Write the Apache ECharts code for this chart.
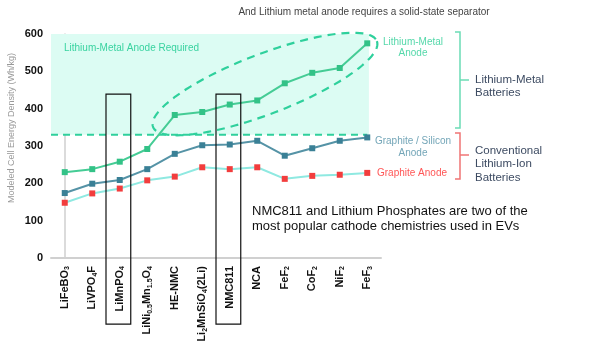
<!DOCTYPE html>
<html lang="en">
<head>
  <meta charset="UTF-8">
  <title>Cell energy density by cathode</title>
  <script src="https://cdn.jsdelivr.net/npm/echarts@6/dist/echarts.min.js"></script>
  <style>
    * {
      margin: 0;
      padding: 0
    }

    html, body {
      width: 100%;
      height: 100%;
      background: #fff;
    }

    #main {
      width: 612px;
      height: 352px;
    }
  </style>
</head>
<body>
  <div id="main"></div>
</body>
<script type="text/javascript">
  /*-------------------- data -----------------------------*/
  var categories = ['LiFeBO3', 'LiVPO4F', 'LiMnPO4', 'LiNi0.5Mn1.5O4', 'HE-NMC', 'Li2MnSiO4(2Li)',
    'NMC811', 'NCA', 'FeF2', 'CoF2', 'NiF2', 'FeF3'];
  // tick labels with subscripts (rich text)
  var xLabels = ['LiFeBO{s|3}', 'LiVPO{s|4}F', 'LiMnPO{s|4}', 'LiNi{s|0.5}Mn{s|1.5}O{s|4}', 'HE-NMC',
    'Li{s|2}MnSiO{s|4}(2Li)', 'NMC811', 'NCA', 'FeF{s|2}', 'CoF{s|2}', 'NiF{s|2}', 'FeF{s|3}'];
  var lithiumMetal = [230, 238, 258, 292, 383, 391, 411, 422, 468, 496, 509, 575];
  var graphiteSilicon = [174, 199, 209, 238, 279, 302, 304, 314, 274, 294, 314, 323];
  var graphite = [148, 173, 186, 208, 218, 243, 238, 243, 212, 220, 223, 228];

  var liMetalThreshold = 330;           // above this a lithium-metal anode is required
  var highlighted = ['LiMnPO4', 'NMC811'];
  // ends of the dashed ellipse, in (category index, Wh/kg)
  var ellipseEnds = [[3.21, 351], [11.35, 581]];

  var FONT = '"Liberation Sans", Arial, sans-serif';

  /*-------------------- chart -----------------------------*/
  var chart = echarts.init(document.getElementById('main'));

  function bgItem(params, api) {
    var tl = api.coord([-0.5, 600]);
    var br = api.coord([11.06, liMetalThreshold]);
    var l0 = api.coord([-0.5, liMetalThreshold]);
    var l1 = api.coord([categories.length - 1, liMetalThreshold]);
    return {
      type: 'group',
      children: [
        {
          type: 'rect',
          shape: {x: tl[0], y: tl[1], width: br[0] - tl[0], height: br[1] - tl[1]},
          style: {fill: '#dcfcf3'}
        },
        {
          type: 'line',
          shape: {x1: l0[0], y1: l0[1], x2: l1[0], y2: l1[1]},
          style: {stroke: '#2fd09c', lineWidth: 2, lineDash: [7, 5]}
        }
      ]
    };
  }

  function annItem(params, api) {
    var children = [];
    // boxes around highlighted cathodes
    highlighted.forEach(function (name) {
      var i = categories.indexOf(name);
      var a = api.coord([i - 0.5, 439]);
      var b = api.coord([i + 0.4, -177]);
      children.push({
        type: 'rect',
        shape: {x: a[0], y: a[1], width: b[0] - a[0], height: b[1] - a[1]},
        style: {fill: 'none', stroke: '#111', lineWidth: 1.2}
      });
    });
    // dashed ellipse round the lithium-metal points
    var p1 = api.coord(ellipseEnds[0]);
    var p2 = api.coord(ellipseEnds[1]);
    var cx = (p1[0] + p2[0]) / 2, cy = (p1[1] + p2[1]) / 2;
    var dx = p2[0] - p1[0], dy = p2[1] - p1[1];
    var a = Math.sqrt(dx * dx + dy * dy) / 2;
    var ux = dx / (2 * a), uy = dy / (2 * a);
    var b = 30;
    var pts = [];
    for (var k = 0; k < 120; k++) {
      var t = k / 120 * Math.PI * 2;
      var ca = a * Math.cos(t), sb = b * Math.sin(t);
      pts.push([cx + ca * ux - sb * uy, cy + ca * uy + sb * ux]);
    }
    children.push({
      type: 'polygon',
      shape: {points: pts},
      style: {fill: 'none', stroke: '#2fd09c', lineWidth: 2.2, lineDash: [8, 6]}
    });
    return {type: 'group', children: children};
  }

  chart.setOption({
    animation: false,
    grid: {
      left: 51,
      right: 231,
      top: 34,
      bottom: 94
    },
    xAxis: [
      {
        type: 'category',
        data: categories,
        boundaryGap: true,
        axisLine: {lineStyle: {color: '#d0d0d0', width: 2}},
        axisTick: {show: false},
        axisLabel: {
          rotate: 90,
          margin: 8,
          interval: 0,
          color: '#111',
          fontFamily: FONT,
          fontWeight: 'bold',
          fontSize: 11,
          formatter: function (v, i) {
            return xLabels[i];
          },
          rich: {
            s: {fontSize: 7, fontWeight: 'bold', fontFamily: FONT, color: '#111', verticalAlign: 'bottom', padding: [5, 0, 0, 0]}
          }
        }
      },
      {
        type: 'value',
        min: -0.5,
        max: 11.5,
        show: false
      }
    ],
    yAxis: {
      type: 'value',
      min: 0,
      max: 600,
      interval: 100,
      splitLine: {show: false},
      axisTick: {show: false},
      axisLine: {show: true, lineStyle: {color: '#cfcfcf', width: 1.5}},
      axisLabel: {
        margin: 8,
        color: '#111',
        fontFamily: FONT,
        fontWeight: 'bold',
        fontSize: 11
      }
    },
    series: [
      {
        type: 'custom',
        xAxisIndex: 1,
        silent: true,
        z: 1,
        data: [[0, 0]],
        renderItem: bgItem
      },
      {
        name: 'Graphite Anode',
        type: 'line',
        z: 3,
        data: graphite,
        symbol: 'rect',
        symbolSize: 6,
        lineStyle: {color: '#8fe9e1', width: 2},
        itemStyle: {color: '#f23d3d'}
      },
      {
        name: 'Graphite / Silicon Anode',
        type: 'line',
        z: 3,
        data: graphiteSilicon,
        symbol: 'rect',
        symbolSize: 6,
        lineStyle: {color: '#5593a6', width: 2},
        itemStyle: {color: '#3a8096'}
      },
      {
        name: 'Lithium-Metal Anode',
        type: 'line',
        z: 3,
        data: lithiumMetal,
        symbol: 'rect',
        symbolSize: 6,
        lineStyle: {color: '#45cc95', width: 2},
        itemStyle: {color: '#33c287'}
      },
      {
        type: 'custom',
        xAxisIndex: 1,
        silent: true,
        z: 5,
        data: [[0, 0]],
        renderItem: annItem
      }
    ],
    graphic: [
      {
        type: 'text', x: 364, y: 12,
        style: {text: 'And Lithium metal anode requires a solid-state separator', font: '10px ' + FONT, fill: '#444', align: 'center', verticalAlign: 'middle'}
      },
      {
        type: 'text', x: 12, y: 128, rotation: Math.PI / 2,
        style: {text: 'Modeled Cell Energy Density (Wh/kg)', font: '9px ' + FONT, fill: '#9a9a9a', align: 'center', verticalAlign: 'middle'}
      },
      {
        type: 'text', x: 64, y: 48, z: 10,
        style: {text: 'Lithium-Metal Anode Required', font: '10px ' + FONT, fill: '#39d3a0', align: 'left', verticalAlign: 'middle'}
      },
      {
        type: 'text', x: 413, y: 48,
        style: {text: 'Lithium-Metal\nAnode', font: '10px ' + FONT, lineHeight: 11, fill: '#55d8aa', align: 'center', verticalAlign: 'middle'}
      },
      {
        type: 'text', x: 413, y: 147,
        style: {text: 'Graphite / Silicon\nAnode', font: '10px ' + FONT, lineHeight: 12, fill: '#74a6b8', align: 'center', verticalAlign: 'middle'}
      },
      {
        type: 'text', x: 412, y: 173,
        style: {text: 'Graphite Anode', font: '10px ' + FONT, fill: '#ff5656', align: 'center', verticalAlign: 'middle'}
      },
      {
        type: 'polyline',
        shape: {points: [[455, 32], [460, 32], [460, 128], [455, 128]]},
        style: {stroke: '#6bdcb5', lineWidth: 1.5, fill: 'none'}
      },
      {
        type: 'line',
        shape: {x1: 460, y1: 80, x2: 469, y2: 80},
        style: {stroke: '#6bdcb5', lineWidth: 1.5}
      },
      {
        type: 'polyline',
        shape: {points: [[455, 133], [460, 133], [460, 179], [455, 179]]},
        style: {stroke: '#f07474', lineWidth: 1.5, fill: 'none'}
      },
      {
        type: 'line',
        shape: {x1: 460, y1: 155, x2: 469, y2: 155},
        style: {stroke: '#f07474', lineWidth: 1.5}
      },
      {
        type: 'text', x: 475, y: 86,
        style: {text: 'Lithium-Metal\nBatteries', font: '11.5px ' + FONT, lineHeight: 13, fill: '#3d4b62', align: 'left', verticalAlign: 'middle'}
      },
      {
        type: 'text', x: 475, y: 164,
        style: {text: 'Conventional\nLithium-Ion\nBatteries', font: '11.5px ' + FONT, lineHeight: 13.5, fill: '#3d4b62', align: 'left', verticalAlign: 'middle'}
      },
      {
        type: 'text', x: 252, y: 219,
        style: {text: 'NMC811 and Lithium Phosphates are two of the\nmost popular cathode chemistries used in EVs', font: '13px ' + FONT, lineHeight: 14.5, fill: '#111', align: 'left', verticalAlign: 'middle'}
      }
    ]
  });
</script>
</html>
